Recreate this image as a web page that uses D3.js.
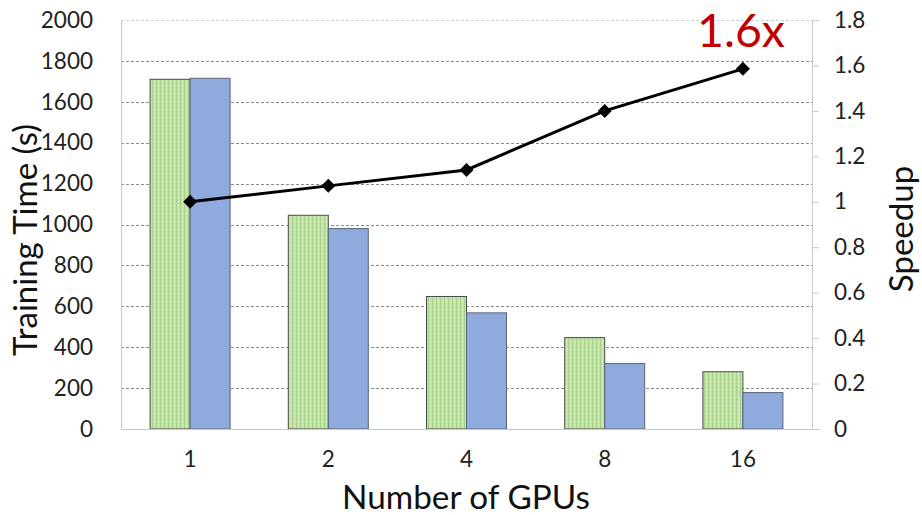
<!DOCTYPE html>
<html><head><meta charset="utf-8">
<script src="https://cdn.jsdelivr.net/npm/d3@7"></script>
<style>body{margin:0;background:#fff}svg{display:block}text{font-family:Lato,"Open Sans",sans-serif}</style>
</head><body><svg id="c" width="922" height="515"></svg>
<script>
const categories = ["1","2","4","8","16"];
const seriesA = [1710, 1045, 648, 447, 280];
const seriesB = [1715, 980, 568, 320, 178];
const speedup = [1.0, 1.07, 1.14, 1.40, 1.585];
const leftTicks = [0,200,400,600,800,1000,1200,1400,1600,1800,2000];
const rightTicks = [0,0.2,0.4,0.6,0.8,1,1.2,1.4,1.6,1.8];

const svg = d3.select("#c");
const L = 121, R = 812, T = 20, B = 429;
const x = d3.scaleBand().domain(categories).range([L, R]).paddingInner(0).paddingOuter(0);
const y = d3.scaleLinear().domain([0, 2000]).range([B, T]);
const y2 = d3.scaleLinear().domain([0, 1.8]).range([B, T]);
const barW = 40;

function fit(sel, target) {
  const n = sel.node();
  const fs = parseFloat(sel.attr("font-size"));
  const w = n.getComputedTextLength();
  if (w > 0) sel.attr("font-size", fs * target / w);
}

const defs = svg.append("defs");
const pat = defs.append("pattern").attr("id","gp").attr("patternUnits","userSpaceOnUse").attr("width",4).attr("height",4);
pat.append("rect").attr("width",4).attr("height",4).attr("fill","#c5e3a9");
pat.append("rect").attr("x",0).attr("width",1).attr("height",4).attr("fill","#a8d08d");
pat.append("rect").attr("x",2).attr("y",1).attr("width",1).attr("height",1).attr("fill","#e4f1da");

// gridlines
svg.append("g").selectAll("line").data(leftTicks.filter(d=>d>0)).join("line")
  .attr("x1",L).attr("x2",R).attr("y1",d=>Math.round(y(d))+0.5).attr("y2",d=>Math.round(y(d))+0.5)
  .attr("stroke",d=>d===2000?"#d0d0d0":"#8c8c8c").attr("stroke-width",1).attr("stroke-dasharray","3,2");

// bars
const g = svg.append("g");
g.selectAll("rect.a").data(seriesA).join("rect").attr("class","a")
  .attr("x",(d,i)=>x(categories[i])+x.bandwidth()/2-barW).attr("width",barW)
  .attr("y",d=>y(d)).attr("height",d=>B-y(d))
  .attr("fill","url(#gp)").attr("stroke","#4a4a4a").attr("stroke-width",1);
g.selectAll("rect.b").data(seriesB).join("rect").attr("class","b")
  .attr("x",(d,i)=>x(categories[i])+x.bandwidth()/2).attr("width",barW)
  .attr("y",d=>y(d)).attr("height",d=>B-y(d))
  .attr("fill","#8faadc").attr("stroke","#5a6478").attr("stroke-width",1);

// axes lines
svg.append("line").attr("x1",L+0.5).attr("x2",L+0.5).attr("y1",T).attr("y2",B).attr("stroke","#c8c8c8");
svg.append("line").attr("x1",R+0.5).attr("x2",R+0.5).attr("y1",T).attr("y2",B).attr("stroke","#c8c8c8");
svg.append("line").attr("x1",L).attr("x2",R+8).attr("y1",B+0.5).attr("y2",B+0.5).attr("stroke","#c8c8c8");

const tickFont = 22.5;
// left axis
const la = svg.append("g").attr("transform",`translate(${L},0)`)
  .call(d3.axisLeft(y).tickValues(leftTicks).tickSize(0).tickPadding(28).tickFormat(d3.format("d")));
la.select(".domain").remove();
la.selectAll("text").attr("font-size",tickFont).attr("fill","#222").style("font-family","Lato,'Open Sans',sans-serif");

// right axis
const ra = svg.append("g").attr("transform",`translate(${R},0)`)
  .call(d3.axisRight(y2).tickValues(rightTicks).tickSize(7).tickPadding(15).tickFormat(d=>d3.format("")(+d.toFixed(1))));
ra.select(".domain").remove();
ra.selectAll("line").attr("stroke","#c8c8c8");
ra.selectAll("text").attr("font-size",tickFont).attr("fill","#222").style("font-family","Lato,'Open Sans',sans-serif");

// bottom axis
const ba = svg.append("g").attr("transform",`translate(0,${B})`)
  .call(d3.axisBottom(x).tickSize(0).tickPadding(22));
ba.select(".domain").remove();
ba.selectAll("text").attr("font-size",tickFont).attr("fill","#222").style("font-family","Lato,'Open Sans',sans-serif");

// line
const lineGen = d3.line().x((d,i)=>x(categories[i])+x.bandwidth()/2).y(d=>y2(d));
svg.append("path").datum(speedup).attr("d",lineGen).attr("fill","none").attr("stroke","#000").attr("stroke-width",3);
svg.append("g").selectAll("path").data(speedup).join("path")
  .attr("transform",(d,i)=>`translate(${x(categories[i])+x.bandwidth()/2},${y2(d)})`)
  .attr("d","M0,-7L7,0L0,7L-7,0Z").attr("fill","#000");

// annotation
const ann = svg.append("text").attr("x",741).attr("y",47).attr("text-anchor","middle").attr("font-size",48).attr("fill","#c00000").text("1.6x");
fit(ann, 88);

// titles
svg.append("text").attr("transform","translate(37,240) rotate(-90)").attr("text-anchor","middle").attr("font-size",33).attr("fill","#111").text("Training Time (s)");
svg.append("text").attr("transform","translate(913,229) rotate(-90)").attr("text-anchor","middle").attr("font-size",33).attr("fill","#111").text("Speedup");
const t3 = svg.append("text").attr("x",466).attr("y",509).attr("text-anchor","middle").attr("font-size",33).attr("fill","#111").text("Number of GPUs");
fit(t3, 248);
</script></body></html>
